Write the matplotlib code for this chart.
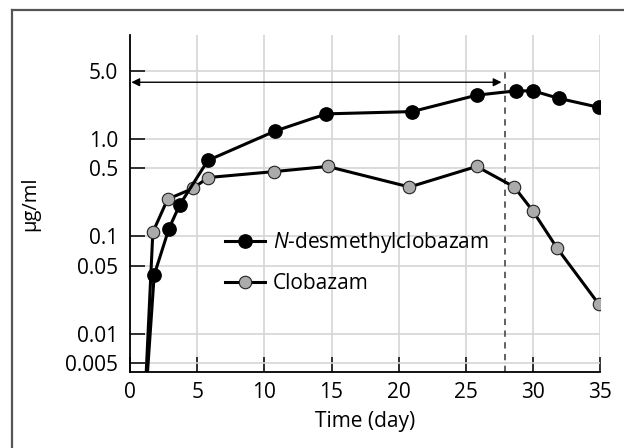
import matplotlib
matplotlib.use("Agg")
import matplotlib.pyplot as plt
from matplotlib.lines import Line2D
from matplotlib.ticker import FixedLocator, FixedFormatter, NullLocator

plt.rcParams['font.family'] = ['Open Sans', 'DejaVu Sans']
plt.rcParams['mathtext.fontset'] = 'custom'
plt.rcParams['mathtext.rm'] = 'Open Sans'
plt.rcParams['mathtext.it'] = 'Open Sans:italic'

# N-desmethylclobazam (black) and clobazam (grey), ug/ml vs day
desm_days = [1.0, 1.8, 2.9, 3.7, 5.8, 10.8, 14.6, 21.0, 25.8, 28.7, 30.0, 31.9, 34.9]
desm_conc = [0.001, 0.04, 0.12, 0.21, 0.6, 1.2, 1.8, 1.9, 2.8, 3.1, 3.1, 2.6, 2.1]
clob_days = [1.0, 1.7, 2.8, 4.7, 5.8, 10.7, 14.7, 20.8, 25.8, 28.6, 30.0, 31.8, 34.9]
clob_conc = [0.001, 0.11, 0.24, 0.31, 0.40, 0.46, 0.52, 0.32, 0.52, 0.32, 0.18, 0.075, 0.02]

y_ticks = [0.005, 0.01, 0.05, 0.1, 0.5, 1.0, 5.0]
y_labels = ['0.005', '0.01', '0.05', '0.1', '0.5', '1.0', '5.0']
x_ticks = [0, 5, 10, 15, 20, 25, 30, 35]

stop_day = 28      # dashed line / end of arrow
arrow_level = 3.8

fs = 15

fig = plt.figure(figsize=(6.24, 4.48), dpi=100)
ax = fig.add_axes([130 / 624, 1 - 372.3 / 448, 470.3 / 624, 337.3 / 448])

ax.set_yscale('log')
ax.set_xlim(0, 35)
ax.set_ylim(0.00402, 11.6)

ax.plot(clob_days, clob_conc, color='black', lw=2.2, marker='o', ms=9.0,
        mfc='#ababab', mec='#222222', mew=0.8, label='Clobazam', zorder=3)
ax.plot(desm_days, desm_conc, color='black', lw=2.2, marker='o', ms=9.6,
        mfc='black', mec='black', label=r'$\it{N}$-desmethylclobazam', zorder=4)

ax.vlines(stop_day - 0.1, 0.00402, 5.4, colors='#555555', lw=1.3,
          linestyles=(0, (3.5, 3)), zorder=2)
ax.annotate('', xy=(0.1, arrow_level), xytext=(stop_day - 0.35, arrow_level),
            arrowprops=dict(arrowstyle='<|-|>', color='black', lw=1.0,
                            mutation_scale=12, shrinkA=0, shrinkB=0))

ax.yaxis.set_major_locator(FixedLocator(y_ticks))
ax.yaxis.set_major_formatter(FixedFormatter(y_labels))
ax.yaxis.set_minor_locator(NullLocator())
ax.set_xticks(x_ticks)
ax.tick_params(direction='in', length=10.8, width=1.1, labelsize=fs)
ax.tick_params(axis='y', pad=8.5)
ax.tick_params(axis='x', pad=7)
ax.grid(True, color='#d6d6d6', lw=1.2, zorder=0)
ax.set_axisbelow(True)
for side in ['top', 'right']:
    ax.spines[side].set_visible(False)
for side in ['left', 'bottom']:
    ax.spines[side].set_linewidth(1.3)

ax.set_xlabel('Time (day)', fontsize=fs, labelpad=6)
ax.set_ylabel('μg/ml', fontsize=14.5, labelpad=18)

handles, labels = ax.get_legend_handles_labels()
ax.legend(handles[::-1], labels[::-1], loc='center left',
          bbox_to_anchor=(0.202, 0.327), frameon=False, fontsize=fs,
          borderpad=0, borderaxespad=0, handlelength=1.92, handletextpad=0.38,
          labelspacing=0.88)

# outer frame (top and left edges visible)
fig.add_artist(Line2D([12 / 624, 1.0], [1 - 10 / 448, 1 - 10 / 448],
                      color='#555555', lw=1.6, transform=fig.transFigure))
fig.add_artist(Line2D([12 / 624, 12 / 624], [0.0, 1 - 10 / 448],
                      color='#555555', lw=1.6, transform=fig.transFigure))

fig.savefig('out.png', dpi=100)
